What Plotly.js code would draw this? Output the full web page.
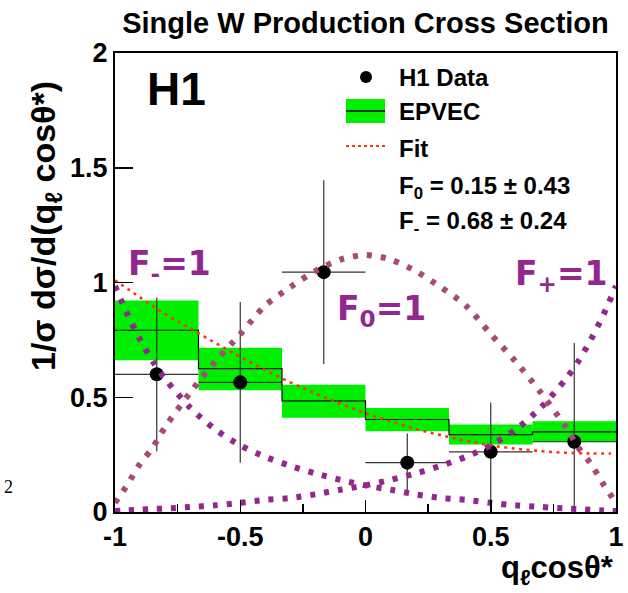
<!DOCTYPE html>
<html>
<head>
<meta charset="utf-8">
<script src="https://cdn.plot.ly/plotly-3.0.1.min.js"></script>
<style>html,body{margin:0;padding:0;background:#fff;}</style>
</head>
<body>
<div id="chart" style="width:628px;height:593px;"></div>
<script>
// ---------------- data ----------------
const binEdges   = [-1, -0.6667, -0.3333, 0, 0.3333, 0.6667, 1];
const binCenters = [-0.8333, -0.5, -0.1667, 0.1667, 0.5, 0.8333];
const binHalfWidth = [0.1667, 0.1667, 0.1667, 0.1667, 0.1667, 0.1667];

const h1Values = [0.600, 0.565, 1.045, 0.215, 0.262, 0.306];
const h1Errors = [0.335, 0.350, 0.400, 0.127, 0.215, 0.430];

const epvecCentral = [0.792, 0.625, 0.484, 0.403, 0.337, 0.349];
const epvecLow     = [0.661, 0.530, 0.411, 0.352, 0.294, 0.305];
const epvecHigh    = [0.922, 0.716, 0.555, 0.453, 0.381, 0.395];

const fitX = [-1, -0.9, -0.8, -0.7, -0.6, -0.5, -0.4, -0.3, -0.2, -0.1, 0,
              0.1, 0.2, 0.3, 0.4, 0.5, 0.6, 0.7, 0.8, 0.9, 0.98];
const fitY = [1.010, 0.935, 0.862, 0.800, 0.737, 0.676, 0.618, 0.565, 0.517, 0.472, 0.430,
              0.395, 0.362, 0.335, 0.311, 0.290, 0.276, 0.265, 0.258, 0.255, 0.255];

const curveX = [-1, -0.95, -0.9, -0.85, -0.8, -0.7, -0.6, -0.5, -0.4, -0.3, -0.2, -0.1, 0,
                0.1, 0.2, 0.3, 0.4, 0.5, 0.6, 0.7, 0.8, 0.85, 0.9, 0.95, 1];
const fPlusY  = [0.004, 0.007, 0.010, 0.013, 0.015, 0.022, 0.029, 0.040, 0.053, 0.061, 0.077, 0.097, 0.116,
                 0.140, 0.168, 0.201, 0.240, 0.290, 0.360, 0.455, 0.580, 0.657, 0.752, 0.860, 0.985];
const fMinusY = [0.985, 0.860, 0.752, 0.657, 0.580, 0.455, 0.360, 0.290, 0.240, 0.201, 0.168, 0.140, 0.116,
                 0.097, 0.077, 0.061, 0.053, 0.040, 0.029, 0.022, 0.015, 0.013, 0.010, 0.007, 0.004];
const fZeroY  = [0.040, 0.120, 0.210, 0.280, 0.370, 0.520, 0.655, 0.775, 0.900, 0.980, 1.050, 1.100, 1.120,
                 1.100, 1.050, 0.980, 0.900, 0.775, 0.655, 0.520, 0.370, 0.280, 0.210, 0.120, 0.040];

const xTickVals = [-1, -0.5, 0, 0.5, 1];
const xTickText = ['-1', '-0.5', '0', '0.5', '1'];
const yTickVals = [0, 0.5, 1, 1.5, 2];
const yTickText = ['0', '0.5', '1', '1.5', '2'];

// ---------------- styling ----------------
const FONT = 'Liberation Sans, Arial, Helvetica, sans-serif';
const LBLFONT = 'DejaVu Sans, Verdana, sans-serif';
const PURPLE = '#93278f';
const MAUVE = '#a94a76';
const GREEN = '#00ee00';
const CURVE_DASH = '5px,9px';

// pixel -> data helpers for decorations (plot area 115..616 x 53..512)
const X = px => -1 + (px - 115) * 2 / 501;
const Y = py => (512 - py) * 2 / 459;

const bandHeights = epvecHigh.map((h, i) => h - epvecLow[i]);
const bandWidths = binEdges.slice(1).map((e, i) => e - binEdges[i]);

const traces = [
  { type: 'bar', x: binCenters, y: bandHeights, base: epvecLow, width: bandWidths,
    marker: { color: GREEN, line: { width: 0 } }, hoverinfo: 'skip' },
  { type: 'scatter', mode: 'lines', x: binEdges, y: epvecCentral.concat([epvecCentral[epvecCentral.length - 1]]),
    line: { color: '#111', width: 1.2, shape: 'hv' } },
  { type: 'scatter', mode: 'markers', x: binCenters, y: h1Values,
    marker: { color: '#000', size: 14 },
    error_y: { type: 'data', array: h1Errors, color: '#333', thickness: 1.2, width: 0 },
    error_x: { type: 'data', array: binHalfWidth, color: '#333', thickness: 1.2, width: 0 } },
  { type: 'scatter', mode: 'lines', x: fitX, y: fitY,
    line: { color: '#ff3311', width: 2.6, dash: '3px,4.5px', shape: 'spline' } },
  { type: 'scatter', mode: 'lines', x: curveX, y: fZeroY,
    line: { color: MAUVE, width: 6, dash: CURVE_DASH, shape: 'spline', smoothing: 0.8 } },
  { type: 'scatter', mode: 'lines', x: curveX, y: fMinusY,
    line: { color: PURPLE, width: 6, dash: CURVE_DASH, shape: 'spline', smoothing: 0.8 } },
  { type: 'scatter', mode: 'lines', x: curveX, y: fPlusY,
    line: { color: PURPLE, width: 6, dash: CURVE_DASH, shape: 'spline', smoothing: 0.8 } }
];

function legText(text, py) {
  return { xref: 'x', yref: 'y', x: X(397), y: Y(py), xanchor: 'left', yanchor: 'middle',
           text: text, showarrow: false, font: { family: FONT, size: 24, weight: 'bold', color: '#000' } };
}
function curveLabel(text, pxLeft, py) {
  return { xref: 'x', yref: 'y', x: X(pxLeft), y: Y(py), xanchor: 'left', yanchor: 'middle',
           text: text, showarrow: false, font: { family: LBLFONT, size: 33, weight: 'bold', color: PURPLE } };
}

const layout = {
  width: 628, height: 593,
  margin: { l: 115, r: 12, t: 53, b: 81, pad: 0 },
  paper_bgcolor: '#fff', plot_bgcolor: '#fff',
  showlegend: false,
  barmode: 'overlay',
  font: { family: FONT, color: '#000' },
  title: { text: 'Single W Production Cross Section', font: { family: FONT, size: 29, weight: 'bold', color: '#000' },
           x: 0.5, xref: 'paper', xanchor: 'center', y: 1 - 23 / 593, yref: 'container', yanchor: 'middle' },
  xaxis: { range: [-1, 1], showgrid: false, zeroline: false, showline: true, mirror: true,
           linecolor: '#000', linewidth: 2, ticks: 'inside', ticklen: 12, tickwidth: 1.5, tickcolor: '#000',
           tickmode: 'array', tickvals: xTickVals, ticktext: xTickText,
           tickfont: { family: FONT, size: 27, weight: 'bold', color: '#000' },
           minor: { ticks: 'inside', ticklen: 8, dtick: 0.25, tick0: -1, tickwidth: 1.5, tickcolor: '#000', showgrid: false } },
  yaxis: { range: [0, 2], showgrid: false, zeroline: false, showline: true, mirror: true,
           linecolor: '#000', linewidth: 2, ticks: 'inside', ticklen: 18, tickwidth: 1.5, tickcolor: '#000',
           tickmode: 'array', tickvals: yTickVals, ticktext: yTickText,
           tickfont: { family: FONT, size: 27, weight: 'bold', color: '#000' } },
  shapes: [
    { type: 'circle', xref: 'x', yref: 'y', xsizemode: 'pixel', ysizemode: 'pixel',
      xanchor: X(366), yanchor: Y(77), x0: -6, x1: 6, y0: -6, y1: 6,
      fillcolor: '#000', line: { width: 0 } },
    { type: 'rect', xref: 'x', yref: 'y', x0: X(346), x1: X(385), y0: Y(123), y1: Y(99),
      fillcolor: GREEN, line: { width: 0 } },
    { type: 'line', xref: 'x', yref: 'y', x0: X(346), x1: X(385), y0: Y(111), y1: Y(111),
      line: { color: '#000', width: 1.5 } },
    { type: 'line', xref: 'x', yref: 'y', x0: X(346), x1: X(385), y0: Y(146), y1: Y(146),
      line: { color: '#ff3311', width: 2.2, dash: '3px,3px' } }
  ],
  annotations: [
    { xref: 'x', yref: 'y', x: X(176), y: Y(89), xanchor: 'center', yanchor: 'middle', text: 'H1',
      showarrow: false, font: { family: FONT, size: 46, weight: 'bold', color: '#000' } },
    legText('H1 Data', 77),
    legText('EPVEC', 111),
    legText('Fit', 148),
    legText('F<sub>0</sub> = 0.15 ± 0.43', 187),
    legText('F<sub>-</sub> = 0.68 ± 0.24', 222),
    curveLabel('F<sub>-</sub>=1', 126, 265),
    curveLabel('F<sub>0</sub>=1', 335, 310),
    curveLabel('F<sub>+</sub>=1', 513, 275),
    { xref: 'paper', yref: 'paper', x: (46 - 115) / 501, y: (512 - 226) / 459, xanchor: 'center', yanchor: 'middle',
      textangle: -90, showarrow: false, text: '1/σ dσ/d(q<sub>ℓ</sub> cosθ*)',
      font: { family: FONT, size: 34, weight: 'bold', color: '#000' } },
    { xref: 'paper', yref: 'paper', x: 1.0, y: (512 - 570) / 459, xanchor: 'right', yanchor: 'middle',
      showarrow: false, text: 'q<sub>ℓ</sub>cosθ*',
      font: { family: FONT, size: 31, weight: 'bold', color: '#000' } },
    { xref: 'paper', yref: 'paper', x: (8 - 115) / 501, y: (512 - 487) / 459, xanchor: 'center', yanchor: 'middle',
      showarrow: false, text: '2', font: { family: 'Liberation Serif, DejaVu Serif, serif', size: 18, color: '#000' } }
  ]
};

Plotly.newPlot('chart', traces, layout, { staticPlot: true, displayModeBar: false });
</script>
</body>
</html>
